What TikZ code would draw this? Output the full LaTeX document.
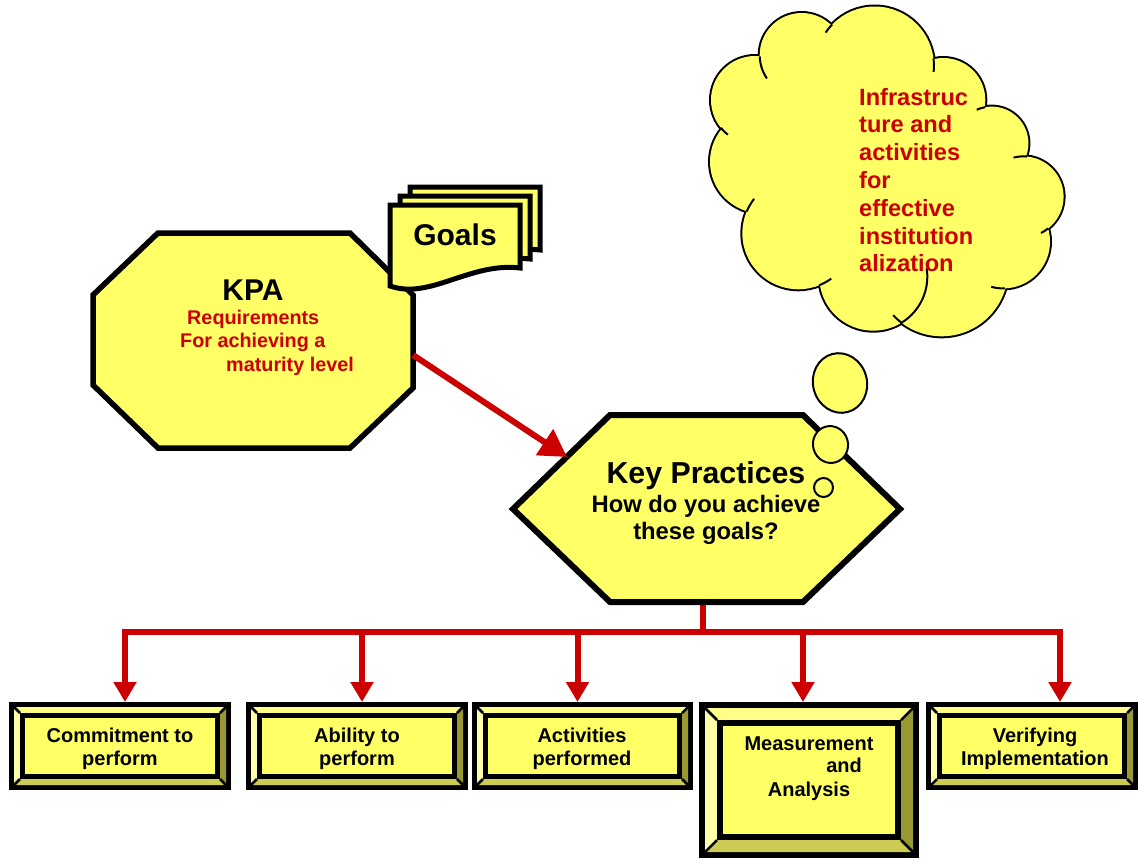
\documentclass[tikz,border=0pt]{standalone}
\usepackage{fontspec}
\setmainfont{Liberation Sans}
\usetikzlibrary{arrows.meta,calc}
\definecolor{kyellow}{RGB}{255,255,102}
\definecolor{kred}{RGB}{204,0,0}
\definecolor{bevtop}{RGB}{255,255,136}
\definecolor{bevleft}{RGB}{255,255,170}
\definecolor{bevright}{RGB}{153,153,51}
\definecolor{bevbot}{RGB}{204,204,85}

% #1 name, #2 x1, #3 y1, #4 x2, #5 y2, #6 border, #7 bevel
\newcommand\bevbox[7]{%
  \pgfmathsetmacro\bbAl{#2+#6}\pgfmathsetmacro\bbAt{#3+#6}%
  \pgfmathsetmacro\bbAr{#4-#6}\pgfmathsetmacro\bbAb{#5-#6}%
  \pgfmathsetmacro\bbBl{#2+#6+#7}\pgfmathsetmacro\bbBt{#3+#6+#7}%
  \pgfmathsetmacro\bbBr{#4-#6-#7}\pgfmathsetmacro\bbBb{#5-#6-#7}%
  \pgfmathsetmacro\bbCl{#2+2*#6+#7}\pgfmathsetmacro\bbCt{#3+2*#6+#7}%
  \pgfmathsetmacro\bbCr{#4-2*#6-#7}\pgfmathsetmacro\bbCb{#5-2*#6-#7}%
  \fill[black] (#2,#3) rectangle (#4,#5);
  \fill[bevtop] (\bbAl,\bbAt) -- (\bbAr,\bbAt) -- (\bbBr,\bbBt) -- (\bbBl,\bbBt) -- cycle;
  \fill[bevleft] (\bbAl,\bbAt) -- (\bbBl,\bbBt) -- (\bbBl,\bbBb) -- (\bbAl,\bbAb) -- cycle;
  \fill[bevright] (\bbAr,\bbAt) -- (\bbBr,\bbBt) -- (\bbBr,\bbBb) -- (\bbAr,\bbAb) -- cycle;
  \fill[bevbot] (\bbAl,\bbAb) -- (\bbAr,\bbAb) -- (\bbBr,\bbBb) -- (\bbBl,\bbBb) -- cycle;
  \draw[line width=2.5pt] (\bbAl,\bbAt) -- (\bbBl,\bbBt) (\bbAr,\bbAt) -- (\bbBr,\bbBt)
     (\bbAl,\bbAb) -- (\bbBl,\bbBb) (\bbAr,\bbAb) -- (\bbBr,\bbBb);
  \fill[black] (\bbBl,\bbBt) rectangle (\bbBr,\bbBb);
  \fill[kyellow] (\bbCl,\bbCt) rectangle (\bbCr,\bbCb);
  \pgfmathsetmacro\bbW{#4-#2}\pgfmathsetmacro\bbH{#5-#3}%
  \node[inner sep=0pt, outer sep=0pt, minimum width=\bbW pt, minimum height=\bbH pt] (#1) at ({(#2+#4)/2},{(#3+#5)/2}) {};
}

\begin{document}
\begin{tikzpicture}[x=1pt,y=-1pt,
  shp/.style={draw=black, fill=kyellow, line width=5.5pt, line join=miter},
  bt/.style={font=\bfseries\fontsize{20}{23}\selectfont, inner sep=0pt, anchor=base},
  redtxt/.style={text=kred, font=\bfseries\fontsize{19.8}{23}\selectfont, inner sep=0pt, anchor=base west},
  cloudtxt/.style={text=kred, font=\bfseries\fontsize{23.6}{28}\selectfont, inner sep=0pt, anchor=base west},
  bigtxt/.style={font=\bfseries\fontsize{30}{36}\selectfont, inner sep=0pt, anchor=base},
  midtxt/.style={font=\bfseries\fontsize{23.8}{28}\selectfont, inner sep=0pt, anchor=base},
  rline/.style={draw=kred, line width=6pt},
  rarr/.style={rline, -{Triangle[length=20pt,width=22pt]}},
  bub/.style={draw=black, fill=kyellow, line width=2pt},
  stub/.style={draw=black, line width=2pt}]
\clip (0,0) rectangle (1138,860);
\fill[white] (0,0) rectangle (1138,860);

% KPA octagon
\draw[shp] (158,233) -- (350,233) -- (413,295) -- (413,388) -- (350,448) -- (158,448) -- (93,385) -- (93,295) -- cycle;
\node[bigtxt] (kpa) at (253,300) {KPA};
\node[redtxt] (kpa1) at (187,324) {Requirements};
\node[redtxt] (kpa2) at (180,347.5) {For achieving a};
\node[redtxt] (kpa3) at (226,371) {maturity level};

% Goals pages
\foreach \dx/\dy in {20/-18, 10/-9, 0/0} {
  \begin{scope}[shift={(390+\dx,205+\dy)}]
    \draw[shp, line width=5pt] (0,0) -- (130,0) -- (130,63) .. controls (80,57) and (40,95) .. (0,81) -- cycle;
  \end{scope}
}
\node[bigtxt] (goals) at (455,245) {Goals};

% stem and bus
\coordinate (kpS) at (703,602);
\coordinate (bus) at (703,632);
\draw[rline] (kpS) -- (bus);

% Key Practices hexagon
\draw[shp, line width=6pt] (610,415) -- (803,415) -- (900,509) -- (803,602) -- (610,602) -- (513,509) -- cycle;
\node[font=\bfseries\fontsize{30.3}{36}\selectfont, inner sep=0pt, anchor=base] (kp) at (706,483) {Key Practices};
\node[midtxt] (kp1) at (706,512) {How do you achieve};
\node[midtxt] (kp2) at (706,539) {these goals?};

% arrow KPA -> Key Practices
\coordinate (kpaE) at (413,355);
\coordinate (kpW) at (567,457);
\draw[rline, -{Triangle[length=27pt,width=30pt]}] (kpaE) -- (kpW);

% bottom boxes
\bevbox{b1}{9}{702}{231}{790}{5}{6}
\bevbox{b2}{246}{702}{468}{790}{5}{6}
\bevbox{b3}{472}{702}{693}{790}{5}{6}
\bevbox{b4}{699}{702}{919}{858}{6}{12}
\bevbox{b5}{926}{702}{1138}{790}{5}{6}

\draw[rarr] (bus) -| ([xshift=5pt]b1.north);
\draw[rarr] (bus) -| ([xshift=5pt]b2.north);
\draw[rarr] (bus) -| ([xshift=-5pt]b3.north);
\draw[rarr] (bus) -| ([xshift=-6pt]b4.north);
\draw[rarr] (bus) -| ([xshift=28pt]b5.north);

\node[bt] (t1a) at (120,742) {Commitment to};
\node[bt] (t1b) at (120,765) {perform};
\node[bt] (t2a) at (357,742) {Ability to};
\node[bt] (t2b) at (357,765) {perform};
\node[bt] (t3a) at (582,742) {Activities};
\node[bt] (t3b) at (582,765) {performed};
\node[bt] (t4a) at (809,750) {Measurement};
\node[bt, anchor=base east] (t4b) at (862,772) {and};
\node[bt] (t4c) at (809,796) {Analysis};
\node[bt] (t5a) at (1035,742) {Verifying};
\node[bt] (t5b) at (1035,765) {Implementation};

% cloud
\draw[line width=4pt] \foreach \cx/\cy/\r in {801.7/55/42, 874.7/65.7/59.2, 943.3/100/42, 991.7/143.3/36.7,
   1023.3/196.7/40.3, 1003.3/241.7/46.7, 941.7/270/66.3, 873.3/276.7/54, 798.3/233.3/56,
   761.7/161.7/51.7, 755/100/44} {(\cx,\cy) circle (\r pt)};
\fill[kyellow] \foreach \cx/\cy/\r in {801.7/55/42, 874.7/65.7/59.2, 943.3/100/42, 991.7/143.3/36.7,
   1023.3/196.7/40.3, 1003.3/241.7/46.7, 941.7/270/66.3, 873.3/276.7/54, 798.3/233.3/56,
   761.7/161.7/51.7, 755/100/44} {(\cx,\cy) circle (\r pt)};
\fill[kyellow] (801.7,55) -- (874.7,65.7) -- (943.3,100) -- (991.7,143.3) -- (1023.3,196.7) -- (1003.3,241.7)
   -- (941.7,270) -- (873.3,276.7) -- (798.3,233.3) -- (761.7,161.7) -- (755,100) -- cycle;
% inner arc ends of the cloud puffs
\foreach \cx/\cy/\r/\aa/\ab in {874.7/65.7/59.2/214/224, 801.7/55/42/146/178, 755/100/44/128/141,
   798.3/233.3/56/203/218, 798.3/233.3/56/54/68, 873.3/276.7/54/-9/60, 941.7/270/66.3/127/137,
   1003.3/241.7/46.7/88/105, 1023.3/196.7/40.3/52/64, 1023.3/196.7/40.3/256/275,
   991.7/143.3/36.7/246/260, 874.7/65.7/59.2/-7/6}
  \draw[stub, domain=\aa:\ab, samples=12, smooth] plot ({\cx+\r*cos(\x)},{\cy+\r*sin(\x)});
\foreach \t [count=\i] in {Infrastruc, ture and, activities, for, effective, institution, alization}
  \node[cloudtxt] (cl\i) at (859,{105+27.8*(\i-1)}) {\t};

% thought bubbles
\draw[bub, rotate around={15:(840,383)}] (840,383) ellipse (27pt and 30pt);
\draw[bub, rotate around={15:(830.5,444.5)}] (830.5,444.5) ellipse (17.5pt and 18.5pt);
\draw[bub] (823.5,487.5) circle (9.5pt);
\end{tikzpicture}
\end{document}
